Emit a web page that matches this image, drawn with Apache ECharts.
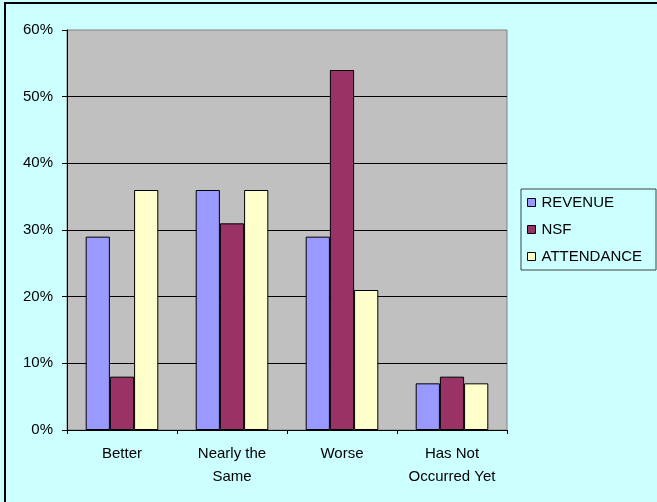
<!DOCTYPE html>
<html>
<head>
<meta charset="utf-8">
<script src="https://cdn.jsdelivr.net/npm/echarts@6/dist/echarts.min.js"></script>
<style>
  html, body { margin: 0; padding: 0; background: #CCFFFF; }
  #chart { width: 657px; height: 502px; }
</style>
</head>
<body>
<div id="chart"></div>
<script>
// Survey outcome categories
const categories = ['Better', 'Nearly the\nSame', 'Worse', 'Has Not\nOccurred Yet'];
// Share of respondents per category (fractions)
const revenue = [0.29, 0.36, 0.29, 0.07];
const nsf = [0.08, 0.31, 0.54, 0.08];
const attendance = [0.36, 0.36, 0.21, 0.07];
const seriesNames = ['REVENUE', 'NSF', 'ATTENDANCE'];
const seriesColors = ['#9999FF', '#993366', '#FFFFCC'];

const chart = echarts.init(document.getElementById('chart'), null, { renderer: 'canvas' });
const font = 'Arial, "Liberation Sans", sans-serif';
const fontSize = 15;

const values = [revenue, nsf, attendance];
const series = seriesNames.map((name, i) => ({
  name,
  type: 'bar',
  data: values[i],
  barGap: '0%',
  barCategoryGap: '34%',
  itemStyle: { color: seriesColors[i], borderColor: '#000', borderWidth: 1 }
}));

chart.setOption({
  backgroundColor: '#CCFFFF',
  animation: false,
  grid: {
    left: 67, top: 30, width: 440, height: 400,
    show: true, backgroundColor: '#C0C0C0', borderColor: '#808080', borderWidth: 1
  },
  graphic: [
    {
      type: 'rect', silent: true, z: -1,
      shape: { x: 5, y: 3, width: 660, height: 520 },
      style: { fill: 'none', stroke: '#000', lineWidth: 2 }
    },
    {
      type: 'rect', silent: true,
      shape: { x: 521, y: 189, width: 135, height: 81 },
      style: { fill: '#CCFFFF', stroke: '#404040', lineWidth: 1 }
    }
  ],
  legend: {
    orient: 'vertical',
    left: 522, top: 190,
    itemWidth: 8, itemHeight: 8, itemGap: 12,
    icon: 'rect',
    data: seriesNames,
    textStyle: { fontFamily: font, fontSize: fontSize, color: '#000', padding: [0, 0, 0, 1] },
    itemStyle: { borderColor: '#000', borderWidth: 1 }
  },
  xAxis: {
    type: 'category',
    data: categories,
    axisLine: { lineStyle: { color: '#000', width: 1 } },
    axisTick: { show: true, length: 4, lineStyle: { color: '#000' } },
    axisLabel: {
      fontFamily: font, fontSize: fontSize, color: '#000', margin: 12,
      lineHeight: 23, interval: 0
    }
  },
  yAxis: {
    type: 'value',
    min: 0, max: 0.6, interval: 0.1,
    axisLine: { show: true, lineStyle: { color: '#000', width: 1 } },
    axisTick: { show: true, length: 5, lineStyle: { color: '#000' } },
    axisLabel: {
      fontFamily: font, fontSize: fontSize, color: '#000', margin: 14,
      formatter: v => Math.round(v * 100) + '%'
    },
    splitLine: { show: true, showMinLine: false, showMaxLine: false, lineStyle: { color: '#000', width: 1 } }
  },
  series
});
</script>
</body>
</html>
